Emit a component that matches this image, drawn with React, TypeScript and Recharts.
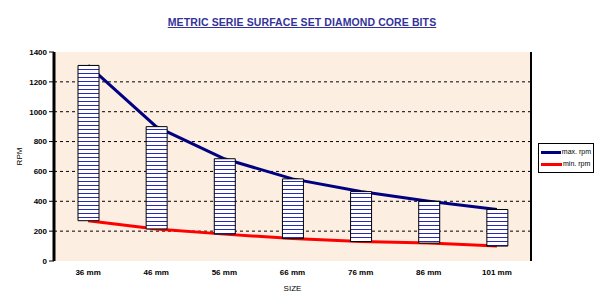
import React from 'react';
import {
  ComposedChart, Bar, Line, XAxis, YAxis, CartesianGrid, Legend,
} from 'recharts';

const sizes = ['36 mm', '46 mm', '56 mm', '66 mm', '76 mm', '86 mm', '101 mm'];
const maxRpm = [1310, 900, 685, 550, 465, 400, 345];
const minRpm = [270, 215, 180, 150, 130, 120, 100];
const yTicks = [0, 200, 400, 600, 800, 1000, 1200, 1400];
const gridValues = [200, 400, 600, 800, 1000, 1200];
const boundaryTicks = [0, 1, 2, 3, 4, 5, 6, 7];

const data = sizes.map((s, i) => ({
  size: s,
  max: maxRpm[i],
  min: minRpm[i],
  range: [minRpm[i], maxRpm[i]],
}));

const FONT = '"Liberation Sans", Arial, sans-serif';
const W = 604;
const H = 308;
const M = { top: 52, right: 72, bottom: 17, left: 8 };
// full margin for the under-layer (axes hidden there)
const M_FULL = { top: 52, right: 73, bottom: 47, left: 54 };

const renderLegend = (props: any) => {
  const payload = (props.payload || []).filter((p: any) => p.type !== 'none');
  return (
    <div
      style={{
        background: '#fff',
        border: '1px solid #000',
        padding: 2,
        fontFamily: FONT,
        fontSize: 7,
        lineHeight: '12px',
        color: '#000',
        width: 50,
      }}
    >
      {payload.map((p: any) => (
        <div key={p.value} style={{ display: 'flex', alignItems: 'center', whiteSpace: 'nowrap' }}>
          <span style={{ display: 'inline-block', width: 21, height: 3, background: p.color, marginRight: 1 }} />
          <span>{p.value}</span>
        </div>
      ))}
    </div>
  );
};

export default function App() {
  return (
    <div style={{ position: 'absolute', left: 0, top: 0, width: W, height: H, fontFamily: FONT, background: '#fff' }}>
      <svg width={0} height={0} style={{ position: 'absolute' }}>
        <defs>
          <pattern id="hstripe" width={4} height={4} patternUnits="userSpaceOnUse">
            <rect width={4} height={4} fill="#ffffff" />
            <rect y={1} width={4} height={1} fill="#2a2ab8" />
          </pattern>
        </defs>
      </svg>

      {/* under-layer: background, gridlines, lines, legend */}
      <div style={{ position: 'absolute', left: 0, top: 0 }}>
        <ComposedChart width={W} height={H} data={data} margin={M_FULL}>
          <CartesianGrid
            vertical={false}
            stroke="#000"
            strokeDasharray="3 3"
            fill="#fdeee2"
            fillOpacity={1}
            horizontalValues={gridValues}
          />
          <XAxis xAxisId="cat" dataKey="size" scale="band" hide />
          <YAxis domain={[0, 1400]} ticks={yTicks} hide />
          <Line
            xAxisId="cat"
            dataKey="max"
            name="max. rpm"
            stroke="#000080"
            strokeWidth={3}
            dot={false}
            activeDot={false}
            isAnimationActive={false}
          />
          <Line
            xAxisId="cat"
            dataKey="min"
            name="min. rpm"
            stroke="#ff0000"
            strokeWidth={3}
            dot={false}
            activeDot={false}
            isAnimationActive={false}
          />
          <Legend
            layout="horizontal"
            verticalAlign="middle"
            align="center"
            content={renderLegend}
            wrapperStyle={{ left: 538, top: 143, width: 'auto', height: 'auto' }}
          />
        </ComposedChart>
      </div>

      {/* over-layer: bars, axes, frame */}
      <div style={{ position: 'absolute', left: 0, top: 0, pointerEvents: 'none' }}>
        <ComposedChart width={W} height={H} data={data} margin={M}>
          <XAxis
            xAxisId="num"
            type="number"
            domain={[0, 7]}
            ticks={boundaryTicks}
            allowDataOverflow
            tick={false}
            tickSize={4}
            tickLine={{ stroke: '#000' }}
            axisLine={{ stroke: '#000', strokeWidth: 3 }}
            height={0}
          />
          <XAxis
            xAxisId="cat"
            dataKey="size"
            tickLine={false}
            axisLine={false}
            tickSize={6}
            tickMargin={2}
            height={30}
            interval={0}
            tick={{ fontSize: 8, fontWeight: 'bold', fill: '#000', fontFamily: FONT }}
            label={{ value: 'SIZE', position: 'insideBottom', offset: 0, fontSize: 8, fill: '#000', fontFamily: FONT }}
          />
          <XAxis
            xAxisId="top"
            orientation="top"
            type="number"
            domain={[0, 7]}
            allowDataOverflow
            tick={false}
            tickLine={false}
            axisLine={{ stroke: '#000', strokeWidth: 3 }}
            height={0}
          />
          <YAxis
            domain={[0, 1400]}
            ticks={yTicks}
            width={46}
            tickSize={5}
            tickMargin={2}
            axisLine={{ stroke: '#000', strokeWidth: 3 }}
            tickLine={{ stroke: '#000' }}
            tick={{ fontSize: 8, fontWeight: 'bold', fill: '#000', fontFamily: FONT }}
            label={{ value: 'RPM', angle: -90, position: 'insideLeft', offset: 11, fontSize: 8, fill: '#000', fontFamily: FONT, style: { textAnchor: 'middle' } }}
          />
          <YAxis
            yAxisId="right"
            orientation="right"
            domain={[0, 1400]}
            width={1}
            tick={false}
            tickLine={false}
            axisLine={{ stroke: '#000', strokeWidth: 2 }}
          />
          <Bar
            xAxisId="cat"
            dataKey="range"
            barSize={21}
            fill="url(#hstripe)"
            stroke="#000"
            strokeWidth={1}
            legendType="none"
            isAnimationActive={false}
          />
        </ComposedChart>
      </div>

      <div
        style={{
          position: 'absolute', left: 0, top: 16, width: W, textAlign: 'center',
          fontSize: 10.5, fontWeight: 'bold', color: '#333399', textDecoration: 'underline',
          fontFamily: FONT, letterSpacing: 0.1,
        }}
      >
        METRIC SERIE SURFACE SET DIAMOND CORE BITS
      </div>
    </div>
  );
}
